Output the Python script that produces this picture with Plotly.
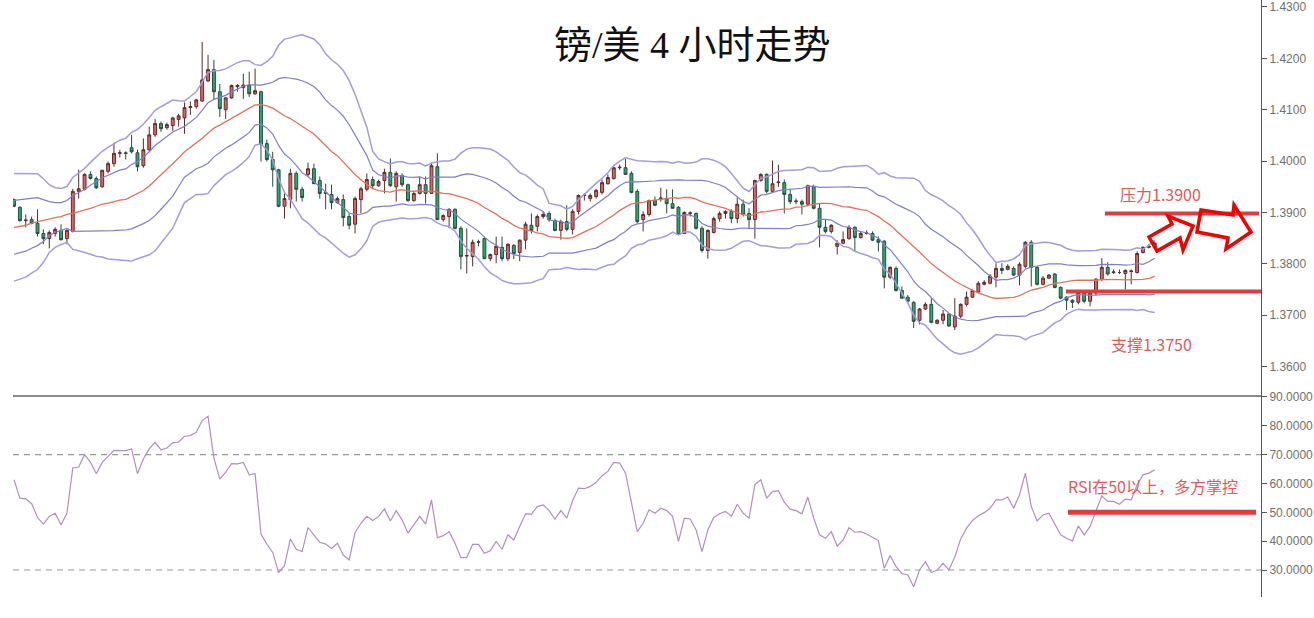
import numpy as np
import pandas as pd
import plotly.graph_objects as go

# ---------------- data (GBP/USD 4H) ----------------
open_ = [1.3925,1.3910,1.3884,1.3886,1.3879,1.3859,1.3849,1.3859,1.3865,1.3849,
         1.3863,1.3941,1.3945,1.3974,1.3966,1.3950,1.3980,1.3995,1.4015,1.4016,
         1.4026,1.4016,1.3991,1.4022,1.4051,1.4073,1.4065,1.4069,1.4081,1.4084,
         1.4104,1.4106,1.4117,1.4156,1.4178,1.4135,1.4100,1.4123,1.4145,1.4143,
         1.4148,1.4131,1.4135,1.4034,1.4003,1.3983,1.3912,1.3925,1.3976,1.3945,
         1.3974,1.3985,1.3962,1.3939,1.3935,1.3919,1.3925,1.3892,1.3877,1.3925,
         1.3945,1.3964,1.3952,1.3962,1.3978,1.3950,1.3972,1.3954,1.3923,1.3937,
         1.3954,1.3937,1.3989,1.3886,1.3892,1.3906,1.3869,1.3815,1.3814,1.3843,
         1.3849,1.3810,1.3818,1.3832,1.3810,1.3836,1.3822,1.3846,1.3875,1.3873,
         1.3892,1.3898,1.3884,1.3865,1.3882,1.3867,1.3902,1.3933,1.3927,1.3931,
         1.3939,1.3956,1.3966,1.3987,1.3987,1.3976,1.3941,1.3886,1.3896,1.3923,
         1.3927,1.3927,1.3917,1.3910,1.3859,1.3898,1.3898,1.3869,1.3826,1.3861,
         1.3888,1.3898,1.3902,1.3888,1.3916,1.3898,1.3886,1.3962,1.3974,1.3941,
         1.3958,1.3958,1.3935,1.3921,1.3921,1.3916,1.3950,1.3908,1.3871,1.3863,
         1.3834,1.3840,1.3849,1.3871,1.3851,1.3859,1.3859,1.3847,1.3844,1.3774,
         1.3791,1.3748,1.3735,1.3725,1.3690,1.3712,1.3721,1.3684,1.3690,1.3702,
         1.3677,1.3698,1.3721,1.3735,1.3745,1.3760,1.3762,1.3774,1.3791,1.3789,
         1.3791,1.3778,1.3795,1.3842,1.3793,1.3760,1.3772,1.3780,1.3754,1.3735,
         1.3729,1.3725,1.3743,1.3727,1.3743,1.3770,1.3793,1.3783,1.3783,1.3781,
         1.3785,1.3783,1.3822,1.3832,1.3832]
high_ = [1.3927,1.3912,1.3896,1.3892,1.3906,1.3867,1.3865,1.3871,1.3877,1.3867,
         1.3946,1.3983,1.3976,1.3980,1.3970,1.3983,1.3999,1.4036,1.4022,1.4019,
         1.4051,1.4022,1.4044,1.4067,1.4082,1.4077,1.4075,1.4086,1.4092,1.4114,
         1.4116,1.4121,1.4232,1.4207,1.4197,1.4150,1.4125,1.4149,1.4150,1.4170,
         1.4174,1.4180,1.4137,1.4042,1.4018,1.3985,1.3937,1.3985,1.3980,1.3950,
         1.3997,1.3995,1.3970,1.3956,1.3954,1.3931,1.3935,1.3898,1.3931,1.3950,
         1.3976,1.3970,1.3964,1.3985,1.4005,1.3980,1.3976,1.3956,1.3941,1.3970,
         1.3970,1.3995,1.4015,1.3896,1.3908,1.3908,1.3873,1.3869,1.3847,1.3847,
         1.3853,1.3820,1.3853,1.3853,1.3840,1.3838,1.3847,1.3882,1.3898,1.3896,
         1.3902,1.3902,1.3888,1.3886,1.3914,1.3906,1.3935,1.3937,1.3937,1.3946,
         1.3964,1.3974,1.3989,1.3993,1.4005,1.3980,1.3945,1.3902,1.3925,1.3931,
         1.3948,1.3945,1.3945,1.3912,1.3902,1.3902,1.3900,1.3873,1.3867,1.3892,
         1.3902,1.3904,1.3906,1.3929,1.3925,1.3908,1.3964,1.3976,1.3976,1.4001,
         1.3993,1.3964,1.3946,1.3927,1.3925,1.3954,1.3954,1.3917,1.3886,1.3877,
         1.3846,1.3863,1.3875,1.3873,1.3863,1.3865,1.3863,1.3853,1.3846,1.3795,
         1.3795,1.3756,1.3739,1.3727,1.3714,1.3725,1.3733,1.3692,1.3710,1.3704,
         1.3733,1.3723,1.3746,1.3750,1.3766,1.3768,1.3780,1.3801,1.3801,1.3799,
         1.3795,1.3803,1.3844,1.3846,1.3795,1.3776,1.3780,1.3782,1.3756,1.3737,
         1.3731,1.3746,1.3746,1.3745,1.3772,1.3811,1.3803,1.3789,1.3789,1.3789,
         1.3789,1.3824,1.3834,1.3838,1.3844]
low_ = [1.3910,1.3882,1.3871,1.3877,1.3853,1.3838,1.3830,1.3853,1.3845,1.3838,
        1.3861,1.3927,1.3943,1.3964,1.3946,1.3948,1.3976,1.3989,1.4007,1.4003,
        1.4015,1.3980,1.3987,1.4018,1.4047,1.4057,1.4061,1.4059,1.4067,1.4053,
        1.4090,1.4102,1.4115,1.4154,1.4119,1.4086,1.4082,1.4121,1.4135,1.4121,
        1.4125,1.4129,1.3999,1.3999,1.3950,1.3910,1.3888,1.3908,1.3921,1.3921,
        1.3970,1.3955,1.3927,1.3906,1.3906,1.3917,1.3873,1.3867,1.3859,1.3898,
        1.3941,1.3946,1.3950,1.3937,1.3950,1.3921,1.3950,1.3921,1.3921,1.3935,
        1.3917,1.3937,1.3886,1.3882,1.3869,1.3867,1.3789,1.3781,1.3795,1.3834,
        1.3809,1.3805,1.3801,1.3805,1.3805,1.3809,1.3805,1.3828,1.3859,1.3863,
        1.3888,1.3882,1.3863,1.3847,1.3863,1.3857,1.3896,1.3923,1.3921,1.3927,
        1.3935,1.3954,1.3964,1.3983,1.3974,1.3937,1.3879,1.3863,1.3892,1.3912,
        1.3921,1.3898,1.3908,1.3857,1.3859,1.3892,1.3867,1.3822,1.3810,1.3859,
        1.3882,1.3888,1.3879,1.3879,1.3892,1.3869,1.3849,1.3960,1.3937,1.3939,
        1.3950,1.3898,1.3916,1.3916,1.3896,1.3912,1.3906,1.3832,1.3859,1.3859,
        1.3818,1.3838,1.3847,1.3824,1.3849,1.3857,1.3844,1.3824,1.3752,1.3770,
        1.3746,1.3733,1.3723,1.3675,1.3682,1.3710,1.3684,1.3682,1.3682,1.3677,
        1.3671,1.3694,1.3717,1.3733,1.3743,1.3758,1.3760,1.3754,1.3780,1.3787,
        1.3776,1.3758,1.3791,1.3756,1.3758,1.3758,1.3770,1.3752,1.3731,1.3710,
        1.3714,1.3721,1.3723,1.3717,1.3739,1.3766,1.3777,1.3780,1.3780,1.3750,
        1.3760,1.3781,1.3820,1.3830,1.3830]
close_ = [1.3912,1.3884,1.3885,1.3879,1.3859,1.3849,1.3861,1.3867,1.3847,1.3865,
          1.3941,1.3946,1.3974,1.3966,1.3948,1.3982,1.3995,1.4015,1.4016,1.4015,
          1.4018,1.3989,1.4022,1.4051,1.4073,1.4063,1.4071,1.4084,1.4088,1.4104,
          1.4106,1.4119,1.4158,1.4178,1.4135,1.4102,1.4123,1.4147,1.4147,1.4148,
          1.4131,1.4137,1.4032,1.4003,1.3983,1.3912,1.3927,1.3976,1.3945,1.3929,
          1.3985,1.3956,1.3937,1.3937,1.3919,1.3927,1.3890,1.3875,1.3927,1.3946,
          1.3964,1.3952,1.3960,1.3978,1.3952,1.3976,1.3954,1.3923,1.3937,1.3954,
          1.3937,1.3991,1.3886,1.3894,1.3906,1.3869,1.3814,1.3816,1.3842,1.3842,
          1.3810,1.3818,1.3834,1.3810,1.3838,1.3820,1.3846,1.3877,1.3865,1.3892,
          1.3896,1.3886,1.3865,1.3882,1.3867,1.3902,1.3933,1.3934,1.3933,1.3943,
          1.3958,1.3968,1.3987,1.3988,1.3974,1.3939,1.3882,1.3896,1.3923,1.3914,
          1.3928,1.3917,1.3908,1.3857,1.3900,1.3899,1.3869,1.3826,1.3865,1.3888,
          1.3898,1.3902,1.3888,1.3916,1.3896,1.3886,1.3962,1.3974,1.3941,1.3956,
          1.3959,1.3935,1.3921,1.3922,1.3916,1.3952,1.3908,1.3871,1.3863,1.3875,
          1.3840,1.3847,1.3871,1.3851,1.3859,1.3860,1.3846,1.3842,1.3774,1.3793,
          1.3748,1.3733,1.3727,1.3688,1.3712,1.3721,1.3686,1.3690,1.3702,1.3679,
          1.3698,1.3721,1.3735,1.3748,1.3762,1.3764,1.3776,1.3791,1.3787,1.3795,
          1.3778,1.3799,1.3842,1.3793,1.3760,1.3772,1.3778,1.3754,1.3733,1.3729,
          1.3725,1.3743,1.3727,1.3743,1.3770,1.3793,1.3780,1.3784,1.3783,1.3787,
          1.3786,1.3820,1.3832,1.3834,1.3840]

rsi = [61.3,54.9,54.7,53.0,48.2,45.9,48.6,49.7,45.7,49.7,
       65.4,65.7,70.0,67.4,63.4,67.3,69.4,71.5,71.4,71.4,
       72.0,63.4,68.5,72.0,74.3,71.7,72.3,74.1,74.4,76.4,
       76.6,77.8,81.8,83.3,68.8,61.5,63.9,66.9,66.8,67.3,
       63.0,63.4,42.5,39.0,36.1,29.1,31.5,40.8,37.2,36.4,
       44.7,42.2,39.6,39.0,37.5,39.3,35.2,33.5,43.0,46.2,
       48.6,47.2,48.6,51.2,47.0,50.6,47.4,42.8,45.7,48.6,
       45.9,54.3,41.2,41.9,43.3,39.3,34.3,34.4,38.9,38.9,
       35.8,36.7,39.9,37.2,42.2,40.4,45.1,49.5,49.4,52.0,
       52.6,50.6,47.6,50.6,48.0,54.0,58.4,58.2,59.0,60.4,
       62.7,64.2,67.3,67.1,63.6,53.8,43.3,46.2,50.9,49.7,51.4,
       50.6,48.6,39.9,48.0,47.7,43.9,36.4,43.9,48.2,49.5,
       50.3,48.6,52.8,49.7,48.0,59.6,61.3,54.9,57.2,57.5,
       53.5,51.1,50.6,49.5,55.3,48.0,42.2,41.0,43.3,38.3,
       40.4,44.7,43.1,43.3,42.5,41.2,40.2,30.6,35.0,31.2,
       28.8,28.3,24.2,30.0,32.9,29.1,30.0,32.3,30.0,34.6,
       40.8,44.5,47.2,48.8,49.9,51.4,54.3,54.3,55.3,51.4,
       56.1,63.6,52.0,47.0,49.1,49.7,45.7,42.2,41.0,40.1,
       45.3,42.2,45.1,50.3,55.7,53.8,53.8,52.8,54.6,54.3,
       59.6,63.0,63.6,64.8]

# Bollinger values of the first 19 bars (history not shown)
bb_mid_head = [1.3871,1.3873,1.3875,1.3879,1.3882,1.3884,1.3888,1.3890,1.3892,1.3896,
               1.3898,1.3901,1.3904,1.3908,1.3912,1.3916,1.3918,1.3921,1.3924]
bb_sd_head = [0.00524,0.00515,0.00505,0.00486,0.00466,0.00408,0.00330,0.00291,0.00272,0.00272,
              0.00350,0.00379,0.00408,0.00447,0.00486,0.00515,0.00544,0.00563,0.00583]

price_ticks = [1.36, 1.37, 1.38, 1.39, 1.40, 1.41, 1.42, 1.43]
rsi_ticks = [30, 40, 50, 60, 70, 80, 90]
resistance = 1.3898
support = 1.3746
rsi_mid = 50
rsi_levels = [70, 30]

title_text = "镑/美 4 小时走势"
res_text = "压力1.3900"
sup_text = "支撑1.3750"
rsi_text = "RSI在50以上，多方掌控"

# ---------------- derived ----------------
n = len(close_)
idx = list(range(n))
cs = pd.Series(close_)
mid = cs.rolling(20).mean().to_numpy()
sd = cs.rolling(20).std(ddof=0).to_numpy()
mid[:19] = bb_mid_head
sd[:19] = bb_sd_head

# ---------------- geometry helpers (pixel -> paper) ----------------
L, R, T, B = 13, 1261, 0, 597
def pxx(v):
    return (v - L) / (R - L)
def pxy(v):
    return (B - v) / (B - T)

split = pxy(395)

fig = go.Figure()

OUTER = "#a39ddd"
INNER = "#7f7fca"
for k, col, w in [(2, OUTER, 1.5), (1, INNER, 1.2), (-1, INNER, 1.2), (-2, OUTER, 1.5)]:
    fig.add_trace(go.Scatter(x=idx, y=mid + k * sd, mode="lines",
                             line=dict(color=col, width=w), hoverinfo="skip",
                             showlegend=False))
fig.add_trace(go.Scatter(x=idx, y=mid, mode="lines",
                         line=dict(color="#e2735a", width=1.3), hoverinfo="skip",
                         showlegend=False))

fig.add_trace(go.Candlestick(
    x=idx, open=open_, high=high_, low=low_, close=close_,
    increasing=dict(fillcolor="#e8605c", line=dict(color="#5a2e2c", width=1)),
    decreasing=dict(fillcolor="#1fae72", line=dict(color="#2e4a3c", width=1)),
    whiskerwidth=0, showlegend=False, xaxis="x", yaxis="y"))

fig.add_trace(go.Scatter(x=idx, y=rsi, mode="lines", xaxis="x2", yaxis="y2",
                         line=dict(color="#b48dc2", width=1.2), hoverinfo="skip",
                         showlegend=False))

axis_font = dict(family="Liberation Sans, Arial, sans-serif", size=12, color="#707070")
fig.update_layout(
    width=1314, height=618,
    margin=dict(l=L, r=1314 - R, t=T, b=618 - B, autoexpand=False),
    paper_bgcolor="white", plot_bgcolor="white",
    showlegend=False,
    xaxis=dict(domain=[0, 1], anchor="y", range=[-0.17, 212.07],
               showticklabels=False, ticks="", showgrid=False, zeroline=False,
               showline=True, linecolor="#8a8a8a", linewidth=1.5,
               rangeslider=dict(visible=False)),
    xaxis2=dict(domain=[0, 1], anchor="y2", matches="x", visible=False),
    yaxis=dict(domain=[split, 1], anchor="x", side="right",
               range=[1.35445, 1.43136], tickvals=price_ticks, tickformat=".4f",
               showgrid=False, zeroline=False, showline=True, linecolor="#555555",
               linewidth=1, ticks="outside", ticklen=5, tickcolor="#555555",
               tickfont=axis_font, ticklabeloverflow="allow"),
    yaxis2=dict(domain=[0, split], anchor="x2", side="right",
                range=[20.64, 90.69], tickvals=rsi_ticks, tickformat=".4f",
                showgrid=False, zeroline=False, showline=True, linecolor="#555555",
                linewidth=1, ticks="outside", ticklen=5, tickcolor="#555555",
                tickfont=axis_font, ticklabeloverflow="allow"),
)

shapes = []
for lv in rsi_levels:
    shapes.append(dict(type="line", xref="paper", yref="y2", x0=0, x1=1, y0=lv, y1=lv,
                       line=dict(color="#9a9a9a", width=1.2, dash="6px,5px"), layer="below"))
shapes.append(dict(type="line", xref="paper", yref="y", x0=pxx(1105), x1=pxx(1259),
                   y0=resistance, y1=resistance, line=dict(color="#e23b3e", width=4)))
shapes.append(dict(type="line", xref="paper", yref="y", x0=pxx(1066), x1=pxx(1261),
                   y0=support, y1=support, line=dict(color="#e23b3e", width=4)))
shapes.append(dict(type="line", xref="paper", yref="y2", x0=pxx(1068), x1=pxx(1256),
                   y0=rsi_mid, y1=rsi_mid, line=dict(color="#e23b3e", width=5)))

def arrow_path(pts):
    s = "M " + " L ".join(f"{pxx(a):.5f},{pxy(b):.5f}" for a, b in pts) + " Z"
    return s

arrow1 = [(1149, 237), (1172, 224), (1168, 216), (1193, 226), (1183, 250), (1180, 238), (1157, 251)]
arrow2 = [(1201, 210), (1233, 215), (1234, 205), (1251, 232), (1226, 249), (1228, 238), (1197, 232)]
for pts in (arrow1, arrow2):
    shapes.append(dict(type="path", xref="paper", yref="paper", path=arrow_path(pts),
                       line=dict(color="#f00000", width=3.5), fillcolor="rgba(0,0,0,0)"))
fig.update_layout(shapes=shapes)

cjk = "Microsoft YaHei, Noto Sans CJK SC, sans-serif"
red_txt = "#e05a5a"
ann = [
    dict(text=title_text, x=pxx(692), y=pxy(45), xref="paper", yref="paper",
         showarrow=False, xanchor="center", yanchor="middle",
         font=dict(family="Liberation Serif, Noto Sans CJK SC, serif", size=38, color="#111111")),
    dict(text=res_text, x=pxx(1160), y=pxy(194), xref="paper", yref="paper",
         showarrow=False, xanchor="center", yanchor="middle",
         font=dict(family=cjk, size=16, color=red_txt)),
    dict(text=sup_text, x=pxx(1151), y=pxy(344), xref="paper", yref="paper",
         showarrow=False, xanchor="center", yanchor="middle",
         font=dict(family=cjk, size=16, color=red_txt)),
    dict(text=rsi_text, x=pxx(1153), y=pxy(486), xref="paper", yref="paper",
         showarrow=False, xanchor="center", yanchor="middle",
         font=dict(family=cjk, size=16, color=red_txt)),
]
fig.update_layout(annotations=ann)

fig.write_html("out.html", config={"displayModeBar": False},
               post_script="document.body.style.margin='0px';document.body.style.overflow='hidden';")
